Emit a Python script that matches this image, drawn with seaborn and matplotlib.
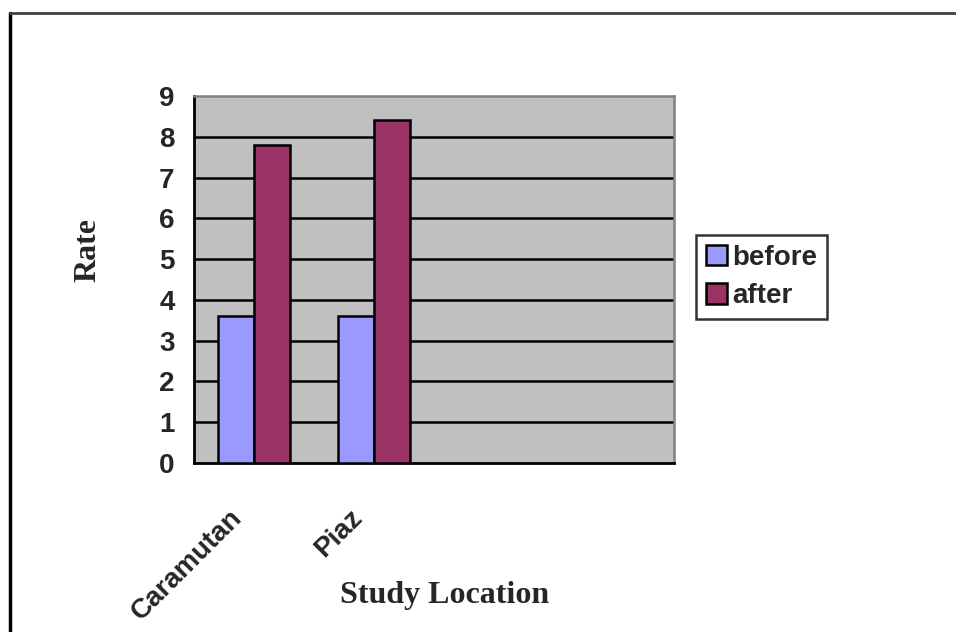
import matplotlib
matplotlib.use("Agg")
import matplotlib.pyplot as plt
import seaborn as sns
import pandas as pd
from matplotlib.lines import Line2D
from matplotlib.patches import Patch
from matplotlib.transforms import ScaledTranslation

# chart values
locations = ['Caramutan', 'Piaz']
before = [3.6, 3.6]
after = [7.8, 8.4]
n_slots = 4  # excel category axis has 4 slots, last two empty

sns.set_style("white")
plt.rcParams['font.family'] = ['Liberation Sans', 'DejaVu Sans']

rows = []
for i in range(len(locations)):
    rows.append([locations[i], before[i], 'before'])
    rows.append([locations[i], after[i], 'after'])
df = pd.DataFrame(data=rows, columns=['location', 'rate', 'period'])

fig = plt.figure(figsize=(9.56, 6.32), dpi=100)
ax = fig.add_axes([194/956, 1-463/632, (674-194)/956, (463-96)/632])
ax.set_facecolor('#C0C0C0')

sns.barplot(data=df, x='location', y='rate', hue='period', order=locations,
            palette={'before': '#9999FF', 'after': '#993366'},
            width=0.6, edgecolor='black', linewidth=1.8, saturation=1,
            legend=False, ax=ax, zorder=3)

ax.set_xlim(-0.5, n_slots - 0.5)
ax.set_ylim(0, 9)
ax.set_yticks(range(0, 10))
for y in range(1, 9):
    ax.axhline(y, color='black', lw=1.8, zorder=1)

# ticks between categories, labels at the centers
ax.set_xticks([i - 0.5 for i in range(n_slots + 1)])
ax.set_xticklabels([])
ax.set_xticks(range(len(locations)), minor=True)
ax.set_xticklabels(locations, minor=True, rotation=45, ha='right', va='top',
                   rotation_mode='anchor', fontsize=20, fontweight='bold')
ax.tick_params(axis='x', which='minor', length=0, pad=30)
ax.tick_params(axis='x', which='major', direction='out', length=7, width=1.8, color='black')
ax.tick_params(axis='y', direction='out', length=7, width=1.8, color='black', pad=7)
for lbl in ax.get_yticklabels():
    lbl.set_fontsize(20)
    lbl.set_fontweight('bold')
for lbl in ax.get_xticklabels(minor=True):
    lbl.set_transform(lbl.get_transform() + ScaledTranslation(-0.25, 0, fig.dpi_scale_trans))

for side in ['left', 'bottom']:
    ax.spines[side].set_color('black')
    ax.spines[side].set_linewidth(2)
for side in ['top', 'right']:
    ax.spines[side].set_color('#808080')
    ax.spines[side].set_linewidth(1.8)
ax.set_xlabel('')
ax.set_ylabel('')

fig.text(88/956, 1-250/632, 'Rate', rotation=90, ha='center', va='center',
         family='Liberation Serif', fontsize=23, fontweight='bold')
fig.text(445/956, 1-595/632, 'Study Location', ha='center', va='center',
         family='Liberation Serif', fontsize=23, fontweight='bold')

handles = [Patch(facecolor='#9999FF', edgecolor='black', lw=1.8, label='before'),
           Patch(facecolor='#993366', edgecolor='black', lw=1.8, label='after')]
leg = fig.legend(handles=handles, loc='upper left', bbox_to_anchor=(696/956, 1-235/632),
                 prop={'size': 20, 'weight': 'bold'}, frameon=True, fancybox=False,
                 handlelength=0.75, handleheight=0.75, handletextpad=0.2,
                 borderpad=0.35, labelspacing=0.45, borderaxespad=0)
leg.get_frame().set_edgecolor('black')
leg.get_frame().set_linewidth(1.8)

# outer chart frame (left and top edges visible)
fig.add_artist(Line2D([10/956, 10/956], [0, 1-13/632], color='black', lw=2.5))
fig.add_artist(Line2D([10/956, 1], [1-13/632, 1-13/632], color='#404040', lw=2))

fig.savefig('out.png', dpi=100)
